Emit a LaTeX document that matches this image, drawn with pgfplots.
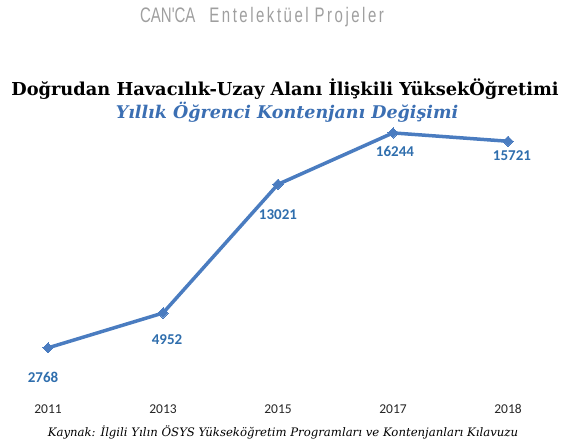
\documentclass[border=0pt]{standalone}
\usepackage{pgfplots}
\pgfplotsset{compat=1.18}
\usepackage{pgfplotstable}
\usepackage{fontspec}
\setmainfont{Carlito}
\newfontfamily\titlefont{DejaVu Serif}
\newfontfamily\logofont{Liberation Sans}
\definecolor{lineblue}{HTML}{4A7CC0}
\definecolor{lblblue}{HTML}{2F6EAD}
\definecolor{subblue}{HTML}{3B6FB3}
\pgfplotstableread{
x y dx dy
0 2768 -5 30
1 4952 4 27
2 13021 0 30
3 16244 2 19
4 15721 4 14
}\datatab
\begin{document}
\begin{tikzpicture}
\path[use as bounding box] (0pt,0pt) rectangle (563pt,445pt);
\node[text=gray!75, font=\logofont\fontsize{15}{15}\selectfont] at (262pt,428pt) {\scalebox{1.0}[1.4]{CAN'CA\hspace{14pt}E\,n\,t\,e\,l\,e\,k\,t\,ü\,e\,l\hspace{6pt}P\,r\,o\,j\,e\,l\,e\,r}};
\node[font=\titlefont\bfseries\fontsize{17.8}{19}\selectfont] at (285pt,356pt) {Doğrudan Havacılık-Uzay Alanı İlişkili YüksekÖğretimi};
\node[text=subblue, font=\titlefont\bfseries\itshape\fontsize{17.5}{19}\selectfont] at (287pt,333pt) {Yıllık Öğrenci Kontenjanı Değişimi};
\node[font=\titlefont\itshape\fontsize{11.7}{13}\selectfont] at (283pt,13pt) {Kaynak: İlgili Yılın ÖSYS Yükseköğretim Programları ve Kontenjanları Kılavuzu};
\begin{axis}[
  at={(48pt,53pt)}, anchor=south west,
  scale only axis, width=460pt, height=287.1pt,
  xmin=0, xmax=4, ymin=0, ymax=18000,
  clip=false,
  axis line style={draw=none},
  xtick={0,1,2,3,4},
  xticklabels={2011,2013,2015,2017,2018},
  ytick=\empty,
  major tick length=0pt,
  xticklabel style={font=\fontsize{13.5}{13.5}\selectfont, text=black!85, yshift=-9pt},
  /pgf/number format/assume math mode=true,
  point meta=explicit,
  visualization depends on={\thisrow{dx}\as\dx},
  visualization depends on={\thisrow{dy}\as\dy},
  nodes near coords={\pgfmathprintnumber[fixed,1000 sep={},assume math mode=true]{\pgfplotspointmeta}},
  every node near coord/.style={anchor=center, xshift=\dx pt, yshift=-\dy pt, font=\bfseries\fontsize{15}{15}\selectfont, text=lblblue},
]
\addplot[lineblue, line width=3.5pt, mark=square*, mark size=3.6pt, mark options={solid, rotate=45, fill=lineblue, line width=0pt}] table[x=x, y=y, meta=y] {\datatab};
\end{axis}
\end{tikzpicture}
\end{document}
